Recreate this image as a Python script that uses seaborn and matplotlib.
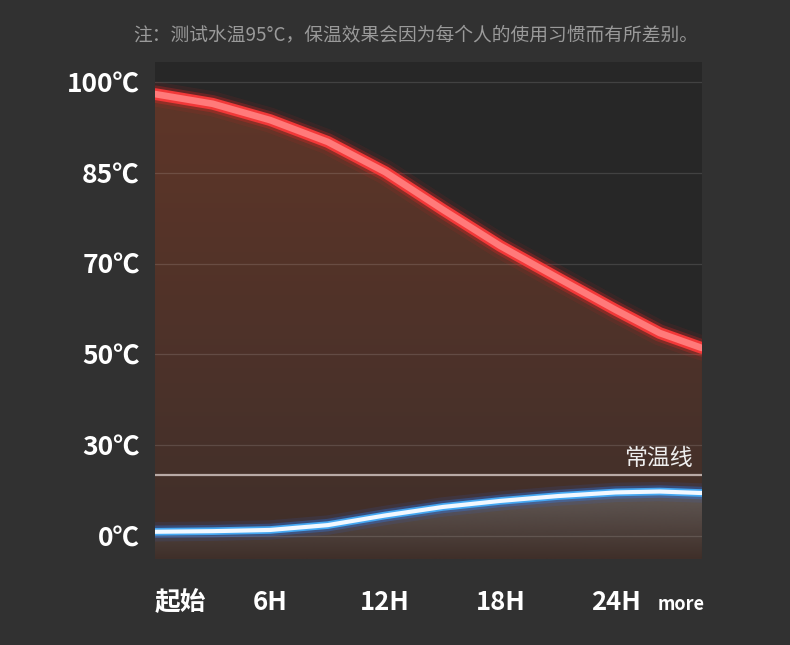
import matplotlib
matplotlib.use("Agg")
import matplotlib.pyplot as plt
import matplotlib.patheffects as pe
from matplotlib.colors import to_rgba
import numpy as np
import seaborn as sns

# values
hours = [0, 3, 6, 9, 12, 15, 18, 21, 24, 26.3, 28.5]
hot_water = [98.0, 96.4, 93.7, 90.1, 85.1, 78.9, 72.9, 66.8, 59.8, 54.7, 51.4]
cold_water = [1.4, 1.6, 2.0, 3.6, 6.8, 9.6, 11.6, 13.2, 14.4, 14.7, 14.2]
room_temp = 20

y_ticks = [0, 30, 50, 70, 85, 100]
y_labels = ["0℃", "30℃", "50℃", "70℃", "85℃", "100℃"]
x_ticks = [0, 6, 12, 18, 24, 27.4]
x_labels = ["起始", "6H", "12H", "18H", "24H", "more"]
note = "注：测试水温95°C，保温效果会因为每个人的使用习惯而有所差别。"

# the temperature axis is evenly spaced per label, not linear
temp_anchor = [-30, 0, 30, 50, 70, 85, 100, 115]
level_anchor = [-1, 0, 1, 2, 3, 4, 5, 6]


def fwd(t):
    return np.interp(t, temp_anchor, level_anchor)


def inv(v):
    return np.interp(v, level_anchor, temp_anchor)


sns.set_theme(style="dark")
plt.rcParams["font.family"] = ["Noto Sans CJK SC", "DejaVu Sans"]

fig = plt.figure(figsize=(7.9, 6.45), dpi=100, facecolor="#313131")
ax = fig.add_axes([0.1962, 0.1333, 0.6924, 0.7706])
ax.set_facecolor("#272727")
ax.set_yscale("function", functions=(fwd, inv))
ax.set_xlim(0, 28.5)
ax.set_ylim(-7.6, 103.3)
bottom = -7.6

# red area with vertical gradient
hot_fill = ax.fill_between(hours, hot_water, bottom, color="none", lw=0)
c_top, c_bot = np.array(to_rgba("#613628")), np.array(to_rgba("#3f2f2a"))
t = np.linspace(1, 0, 256)[:, None]
grad = (c_bot + (c_top - c_bot) * t)[:, None, :]
im = ax.imshow(grad, extent=[0, 1, 0, 1], transform=ax.transAxes,
               aspect="auto", zorder=1)
im.set_clip_path(hot_fill.get_paths()[0], ax.transData)

# grey glow under the blue line
cold_fill = ax.fill_between(hours, cold_water, bottom, color="none", lw=0)
g = np.zeros((256, 1, 4))
g[..., :3] = to_rgba("#67625f")[:3]
g[..., 3] = np.linspace(0.9, 0.0, 256)[:, None]
im2 = ax.imshow(g, extent=[0, 1, 0, 0.145], transform=ax.transAxes,
                aspect="auto", zorder=1.5)
im2.set_clip_path(cold_fill.get_paths()[0], ax.transData)

# grid
ax.set_yticks(y_ticks, y_labels)
ax.set_xticks(x_ticks, x_labels)
ax.set_xticks([6, 12, 18, 24], minor=True)
ax.grid(False)
ax.grid(which="major", axis="y", color="white", alpha=0.13, lw=0.9)
ax.grid(which="minor", axis="x", color="white", alpha=0.13, lw=0.9)
ax.set_axisbelow(False)

# room temperature line
ax.axhline(room_temp, color="#b8aaa6", lw=1.6, zorder=2.6)
ax.annotate("常温线", xy=(28.0, room_temp), xytext=(0, 4),
            textcoords="offset points", ha="right", va="bottom",
            color="#eeeeee", fontsize=16.5, zorder=3)

# glowing lines
red_glow = [
    pe.Stroke(linewidth=18, foreground="#ff2020", alpha=0.08),
    pe.Stroke(linewidth=12.5, foreground="#ff2424", alpha=0.25),
    pe.Stroke(linewidth=8.5, foreground="#f23838"),
    pe.Normal(),
]
sns.lineplot(x=hours, y=hot_water, ax=ax, color="#ff7a7a", lw=4.8,
             solid_capstyle="round", path_effects=red_glow, zorder=4)

blue_glow = [
    pe.Stroke(linewidth=14, foreground="#2a6cff", alpha=0.1),
    pe.Stroke(linewidth=9, foreground="#2a80ff", alpha=0.3),
    pe.Stroke(linewidth=5.5, foreground="#45a8f2"),
    pe.Normal(),
]
sns.lineplot(x=hours, y=cold_water, ax=ax, color="#f2f8ff", lw=3.0,
             solid_capstyle="round", path_effects=blue_glow, zorder=4)

# ticks
for s in ax.spines.values():
    s.set_visible(False)
ax.tick_params(axis="both", which="both", length=0)
ax.tick_params(axis="y", pad=11, labelsize=19, labelcolor="white")
ax.tick_params(axis="x", pad=37, labelsize=18.5, labelcolor="white")
for lab in ax.get_yticklabels():
    lab.set_fontweight("bold")
for lab in ax.get_xticklabels():
    lab.set_fontweight("bold")
    lab.set_va("baseline")
xl = ax.get_xticklabels()
xl[0].set_ha("left")
xl[-1].set_fontsize(13)

fig.text(0.526, 0.946, note, ha="center", va="center",
         color="#9a9a9a", fontsize=13.5)

plt.savefig("out.png", dpi=100, facecolor=fig.get_facecolor())
